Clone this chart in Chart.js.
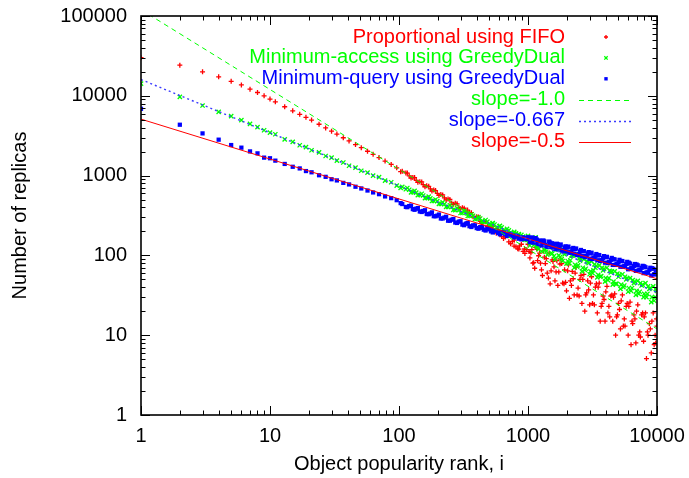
<!DOCTYPE html>
<html><head><meta charset="utf-8">
<script src="https://cdn.jsdelivr.net/npm/chart.js@4.4.0/dist/chart.umd.min.js"></script>
<style>html,body{margin:0;padding:0;background:#fff;}</style>
</head><body>
<canvas id="c" width="689" height="478" style="display:block;width:689px;height:478px"></canvas>
<script>
// ---- data ----
const ranks = [1,2,3,4,5,6,7,8,9,10,
11,13,15,17,19,21,24,27,30,33,37,41,46,51,57,63,70,78,87,96,
106,113,120,128,136,145,154,164,175,186,198,211,225,240,256,273,291,310,330,352,375,400,426,454,484,516,550,586,625,666,710,757,807,860,917,977,
1000,1035,1071,1108,1147,1187,1229,1272,1316,1362,1410,1459,1510,1563,1618,1674,1733,1793,1856,1921,1988,2058,2130,2204,2281,2361,2444,2529,2618,2709,2804,2902,3004,3109,3217,3330,3446,3567,3692,3821,3955,4093,4236,4385,4538,4697,4861,5031,5207,5390,5578,5773,5975,6184,6401,6625,6857,7096,7345,7602,7868,8143,8428,8723,9029,9345,9672,10000];

const fifoValues = [30000,24200,20000,17300,15200,13700,12100,11000,10000,9100,
8400,7290,6480,5860,5370,4970,4400,3960,3600,3310,2980,2720,2450,2240,2020,1850,1680,1520,1379,1250,
1130,1080,990,950,870,840,770,745,680,660,600,580,525,510,455,450,400,395,350,345,305,305,268,262,232,228,198,200,172,170,148,150,128,132,112,118,
138,93,118,81,126,86,107,66,114,79,60,107,64,84,48,86,62,90,45,66,36,76,48,63,32,71,39,50,25,58,32,48,24,54,32,40,19,45,23,31,15,41,23,31,15,33,17,25,12,32,16,23,10,26,15,18,8,24,11,18,8.4,19,11,14,6,19,10,13];

const accessValues = [14200,9700,7550,6300,5550,4950,4450,4050,3700,3450,
3300,2850,2650,2400,2270,2080,1950,1760,1680,1540,1460,1330,1260,1150,1090,1000,955,865,825,750,
722,675,665,620,612,572,563,526,518,482,478,443,440,405,404,370,372,340,342,312,314,286,290,262,265,240,244,220,224,202,206,185,189,169,172,156,
176,133,160,134,168,126,139,112,147,117,102,139,107,125,90,125,100,125,85,103,79,111,87,99,70,104,75,86,63,90,68,82,58,84,65,70,53,75,55,65,47,70,52,61,43,63,44,54,38,58,42,50,35,52,39,45,32,48,35,42,30,45,33,38,26,41,30,36];

const queryValues = [6870,4340,3380,2820,2415,2240,2010,1900,1680,1650,
1540,1400,1290,1230,1140,1100,1010,965,900,870,810,775,725,690,650,615,585,548,522,492,
440,405,415,380,385,355,360,330,335,310,315,290,298,272,280,258,265,243,250,232,238,220,226,210,216,200,206,192,196,184,186,176,177,168,168,160,
169,147,168,145,165,142,154,133,154,135,129,149,127,139,120,140,122,137,115,126,112,129,110,120,105,122,103,112,98,113,98,106,91,108,94,99,87,101,87,93,81,96,83,88,76,89,78,82,72,85,74,78,67,79,69,74,64,75,66,70,60,71,61,66,56,68,58,62];

// extra points in the middle range
const midRanks = [103,116,124,132,140,150,159,170,180,192,204,218,232,248,264,282,300,320,341,364,388,413,440,469,500,533,568,606,646,688,733,782,833,888,946];
const fifoMid = [1120,1075,930,945,823,832,725,734,640,650,565,572,496,503,437,443,384,390,338,343,297,302,257,266,220,232,190,200,163,176,140,155,121,138,106];
const accessMid = [700,700,615,645,568,592,522,545,480,502,442,462,405,425,372,390,340,358,312,328,286,302,263,278,242,255,222,234,204,215,187,197,172,181,158];
const queryMid = [452,402,421,373,392,350,368,328,346,309,325,290,305,272,286,255,268,239,251,227,238,216,226,205,212,194,203,184,193,175,183,168,173,159,166];

// extra points in the noisy tail
const tailRanks = [340,440,530,650,780,940,1053,1127,1208,1294,1386,1484,1590,1703,1824,1954,2094,2242,2402,2573,2756,2952,3163,3388,3629,3887,4164,4461,4778,5119,5484,5874,6292,6740,7220,7734,8285,8875,9507,9900];
const fifoTail = [370,259,204,185,131,121,108,69,99,56,91,44,72,42,79,46,29,51,32,56,20,37,25,44,15,28,19,32,10,21,13,25,7.6,16,10,19,5.1,12,7.6,16];
const accessTail = [335,270,250,208,192,160,142,158,120,140,112,130,98,118,90,108,80,100,72,90,66,80,60,74,54,68,49,63,44,57,40,52,36,47,33,43,30,39,27,37];
const queryTail = [255,222,205,190,175,162,150,158,139,150,131,145,122,137,115,130,108,124,101,117,95,110,90,104,85,98,80,93,76,88,72,83,69,78,65,74,61,70,58,66];

const tailRanks2 = [600,720,850,1020,1090,1170,1250,1340,1440,1540,1650,1770,1900,2030,2170,2320,2490,2660,2850,3050,3270,3500,3750,4010,4300,4600,4930,5280,5650,6050,6480,6940,7430,7960,8520,9130,9780];
const fifoTail2 = [190,180,120,112,80,120,80,95,52,88,62,78,44,64,42,60,31,50,34,45,24,40,25,35,17,30,18,27,13,23,14,20,9.5,17,10,15,8];
const accessTail2 = [232,190,185,150,160,130,145,118,131,105,120,95,110,85,100,76,92,70,84,63,77,57,70,52,64,47,59,43,54,39,49,36,45,33,41,30,38];
const queryTail2 = [190,185,162,166,146,158,138,150,128,142,122,133,115,126,108,120,102,113,97,106,92,100,87,95,82,90,77,85,73,81,69,77,65,73,61,69,60];

// fitted reference lines (end points)
const fitRanks = [1, 10000];
const fitSlope10 = [120000, 12];
const fitSlope0667 = [16000, 34.4];
const fitSlope05 = [5100, 51];

const xTicks = [1, 10, 100, 1000, 10000];
const yTicks = [1, 10, 100, 1000, 10000, 100000];

const seriesLabels = ['Proportional using FIFO', 'Minimum-access using GreedyDual', 'Minimum-query using GreedyDual',
  'slope=-1.0', 'slope=-0.667', 'slope=-0.5'];
const xTitle = 'Object popularity rank, i';
const yTitle = 'Number of replicas';

// ---- chart ----
const FONT = "'Liberation Sans', Arial, Helvetica, sans-serif";
Chart.defaults.font.family = FONT;
Chart.defaults.font.size = 20;
Chart.defaults.color = '#000';

const pts = (xs, ys) => xs.map((x, i) => ({x: x, y: ys[i]}));

const datasets = [
  {label: seriesLabels[0], data: pts(ranks, fifoValues).concat(pts(midRanks, fifoMid), pts(tailRanks, fifoTail), pts(tailRanks2, fifoTail2)),
   pointStyle: 'cross', pointRadius: 2.5, borderWidth: 1.3, borderColor: '#ff0000', backgroundColor: '#ff0000', showLine: false, order: 3},
  {label: seriesLabels[1], data: pts(ranks, accessValues).concat(pts(midRanks, accessMid), pts(tailRanks, accessTail), pts(tailRanks2, accessTail2)),
   pointStyle: 'crossRot', pointRadius: 3, borderWidth: 1.3, borderColor: '#00ff00', backgroundColor: '#00ff00', showLine: false, order: 2},
  {label: seriesLabels[2], data: pts(ranks, queryValues).concat(pts(midRanks, queryMid), pts(tailRanks, queryTail), pts(tailRanks2, queryTail2)),
   pointStyle: 'rect', pointRadius: 3, borderWidth: 0, borderColor: '#0000ff', backgroundColor: '#0000ff', showLine: false, order: 1},
  {label: seriesLabels[3], data: pts(fitRanks, fitSlope10), showLine: true, pointRadius: 0,
   borderColor: '#00ff00', borderWidth: 1, borderDash: [5, 4], order: 0},
  {label: seriesLabels[4], data: pts(fitRanks, fitSlope0667), showLine: true, pointRadius: 0,
   borderColor: '#3a3aff', borderWidth: 1.4, borderDash: [2, 3], order: 0},
  {label: seriesLabels[5], data: pts(fitRanks, fitSlope05), showLine: true, pointRadius: 0,
   borderColor: '#ff0000', borderWidth: 1, order: 0}
];

const frame = {
  id: 'frame',
  afterDatasetsDraw(chart) {
    const {ctx, chartArea: a, scales: {x, y}} = chart;
    ctx.save();
    ctx.strokeStyle = '#000';
    ctx.lineWidth = 1;
    const tick = (v, axis, len) => {
      if (axis === 'x') {
        const px = Math.round(x.getPixelForValue(v)) + 0.5;
        ctx.beginPath(); ctx.moveTo(px, a.bottom); ctx.lineTo(px, a.bottom - len);
        ctx.moveTo(px, a.top); ctx.lineTo(px, a.top + len); ctx.stroke();
      } else {
        const py = Math.round(y.getPixelForValue(v)) + 0.5;
        ctx.beginPath(); ctx.moveTo(a.left, py); ctx.lineTo(a.left + len, py);
        ctx.moveTo(a.right, py); ctx.lineTo(a.right - len, py); ctx.stroke();
      }
    };
    xTicks.forEach((d, i) => {
      tick(d, 'x', 9);
      if (i < xTicks.length - 1) for (let m = 2; m <= 9; m++) tick(d * m, 'x', 4.5);
    });
    yTicks.forEach((d, i) => {
      tick(d, 'y', 9);
      if (i < yTicks.length - 1) for (let m = 2; m <= 9; m++) tick(d * m, 'y', 4.5);
    });
    ctx.lineWidth = 1.6;
    ctx.strokeRect(a.left, a.top, a.right - a.left, a.bottom - a.top);
    ctx.restore();
  },
  afterDraw(chart) {
    const ctx = chart.ctx;
    ctx.save();
    ctx.font = '20px ' + FONT;
    ctx.textAlign = 'right';
    ctx.textBaseline = 'middle';
    const textColors = ['#ff0000', '#00ff00', '#0000ff', '#00ff00', '#0000ff', '#ff0000'];
    chart.data.datasets.forEach((ds, i) => {
      const yy = 37 + i * 20.9;
      ctx.fillStyle = textColors[i];
      ctx.fillText(ds.label, 565, yy);
      ctx.strokeStyle = ds.borderColor;
      ctx.fillStyle = ds.backgroundColor || ds.borderColor;
      if (ds.showLine) {
        ctx.lineWidth = ds.borderWidth;
        ctx.setLineDash(ds.borderDash || []);
        ctx.beginPath(); ctx.moveTo(579, Math.round(yy) + 0.5); ctx.lineTo(631, Math.round(yy) + 0.5); ctx.stroke();
        ctx.setLineDash([]);
      } else {
        const px = 606, r = ds.pointRadius * 0.8;
        ctx.lineWidth = ds.borderWidth;
        if (ds.pointStyle === 'cross') {
          ctx.beginPath(); ctx.moveTo(px - r, yy); ctx.lineTo(px + r, yy);
          ctx.moveTo(px, yy - r); ctx.lineTo(px, yy + r); ctx.stroke();
        } else if (ds.pointStyle === 'crossRot') {
          const o = r * Math.SQRT1_2;
          ctx.beginPath(); ctx.moveTo(px - o, yy - o); ctx.lineTo(px + o, yy + o);
          ctx.moveTo(px - o, yy + o); ctx.lineTo(px + o, yy - o); ctx.stroke();
        } else {
          const s = r * Math.SQRT1_2;
          ctx.fillRect(px - s, yy - s, 2 * s, 2 * s);
        }
      }
    });
    ctx.restore();
  }
};

new Chart(document.getElementById('c'), {
  type: 'scatter',
  data: {datasets: datasets},
  options: {
    responsive: false,
    animation: false,
    devicePixelRatio: 1,
    layout: {autoPadding: false, padding: {left: 0, right: 32, top: 16, bottom: 0}},
    plugins: {legend: {display: false}, tooltip: {enabled: false}},
    scales: {
      x: {
        type: 'logarithmic', position: 'bottom', min: 1, max: 10000,
        grid: {display: false, drawTicks: false}, border: {display: false},
        afterBuildTicks: s => { s.ticks = xTicks.map(v => ({value: v})); },
        afterFit: s => { s.height = 63; s.paddingLeft = 0; s.paddingRight = 0; },
        ticks: {autoSkip: false, maxRotation: 0, padding: 9, color: '#000', font: {size: 20},
                callback: v => String(v)},
        title: {display: true, text: xTitle, color: '#000', font: {size: 20}, padding: {top: 0, bottom: 2}}
      },
      y: {
        type: 'logarithmic', position: 'left', min: 1, max: 100000,
        grid: {display: false, drawTicks: false}, border: {display: false},
        afterBuildTicks: s => { s.ticks = yTicks.map(v => ({value: v})); },
        afterFit: s => { s.width = 141; s.paddingTop = 0; s.paddingBottom = 0; },
        ticks: {autoSkip: false, padding: 14, color: '#000', font: {size: 20},
                callback: v => String(v)},
        title: {display: true, text: yTitle, color: '#000', font: {size: 20}, padding: {top: 8, bottom: 0}}
      }
    }
  },
  plugins: [frame]
});
</script>
</body></html>
